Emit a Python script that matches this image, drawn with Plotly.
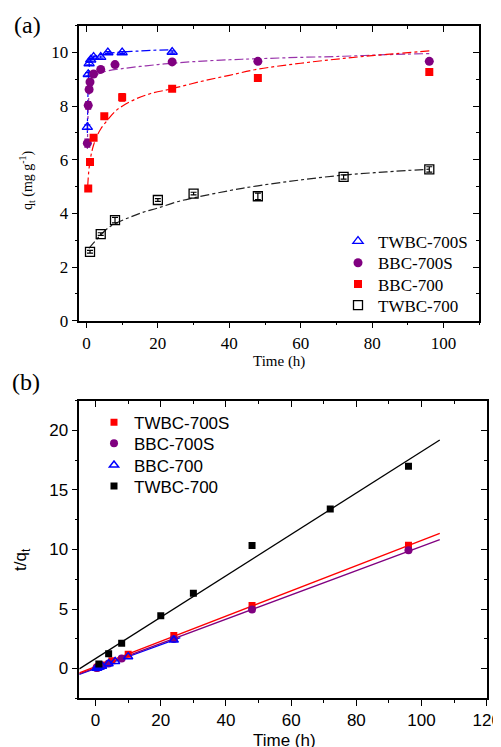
import plotly.graph_objects as go

# the page adds an 8px body margin, so the figure is drawn 8px smaller and shifted
OFF = 8
W, H = 501 - OFF, 747 - OFF

# ---- panel (a): q_t vs time ----
t_twbc700s = [0.25, 0.5, 0.75, 1.2, 2, 4, 6, 10, 24]
q_twbc700s = [7.22, 9.19, 9.59, 9.73, 9.83, 9.83, 10.0, 10.0, 10.02]
e_twbc700s = [0.08, 0.06, 0.05, 0.05, 0.04, 0.04, 0.03, 0.03, 0.04]

t_bbc700s = [0.25, 0.5, 0.75, 1, 2, 4, 8, 24, 48, 96]
q_bbc700s = [6.62, 8.03, 8.62, 8.9, 9.2, 9.37, 9.55, 9.65, 9.67, 9.67]
e_bbc700s = [0.15, 0.14, 0.06, 0.05, 0.05, 0.05, 0.04, 0.04, 0.04, 0.05]

t_bbc700 = [0.5, 1, 2, 5, 10, 24, 48, 96]
q_bbc700 = [4.93, 5.92, 6.82, 7.62, 8.33, 8.65, 9.05, 9.27]
e_bbc700 = [0.06, 0.06, 0.07, 0.06, 0.14, 0.06, 0.06, 0.1]

t_twbc700 = [1, 4, 8, 20, 30, 48, 72, 96]
q_twbc700 = [2.57, 3.23, 3.75, 4.5, 4.74, 4.64, 5.36, 5.64]
e_twbc700 = [0.05, 0.05, 0.1, 0.05, 0.05, 0.12, 0.08, 0.1]

# fitted curves
ft_twbc700s = [0.25, 0.4, 0.6, 0.8, 1, 1.5, 2, 3, 4, 6, 8, 10, 14, 18, 24]
fq_twbc700s = [7.0, 8.3, 9.1, 9.5, 9.65, 9.78, 9.84, 9.9, 9.93, 9.97, 10.0, 10.02, 10.05, 10.08, 10.1]

ft_bbc700s = [0.25, 0.4, 0.6, 0.8, 1, 1.5, 2, 3, 4, 6, 10, 15, 20, 24, 30, 40, 48, 60, 72, 84, 96]
fq_bbc700s = [6.4, 7.4, 8.2, 8.6, 8.85, 9.0, 9.1, 9.18, 9.24, 9.32, 9.4, 9.48, 9.55, 9.6, 9.66, 9.73,
              9.77, 9.82, 9.86, 9.92, 9.96]

ft_bbc700 = [0.35, 0.6, 1, 1.5, 2, 3, 4, 6, 8, 10, 14, 18, 24, 32, 40, 48, 60, 72, 84, 96]
fq_bbc700 = [5.0, 5.5, 5.95, 6.3, 6.55, 6.9, 7.15, 7.5, 7.8, 8.0, 8.28, 8.47, 8.65, 8.92, 9.15, 9.38,
             9.6, 9.78, 9.93, 10.06]

ft_twbc700 = [0.7, 2, 4, 6, 8, 12, 16, 20, 25, 30, 40, 48, 60, 72, 84, 96]
fq_twbc700 = [2.7, 2.9, 3.2, 3.45, 3.62, 3.85, 4.05, 4.2, 4.42, 4.58, 4.85, 5.03, 5.25, 5.43, 5.55, 5.65]

# ---- panel (b): t/q_t vs time ----
bt_red = [0.5, 1, 2, 5, 10, 24, 48, 96]
by_red = [0.1, 0.17, 0.29, 0.66, 1.2, 2.77, 5.3, 10.36]
bt_purple = [0.25, 0.5, 0.75, 1, 2, 4, 8, 24, 48, 96]
by_purple = [0.04, 0.06, 0.09, 0.11, 0.22, 0.43, 0.84, 2.49, 4.96, 9.93]
bt_blue = [0.25, 0.5, 0.75, 1.2, 2, 4, 6, 10, 24]
by_blue = [0.03, 0.05, 0.08, 0.12, 0.2, 0.41, 0.6, 1.0, 2.39]
bt_black = [1, 4, 8, 20, 30, 48, 72, 96]
by_black = [0.39, 1.24, 2.13, 4.44, 6.33, 10.34, 13.4, 17.0]

# linear fits (end points)
lx_red, ly_red = [-5, 105.6], [-0.36, 11.36]
lx_purple, ly_purple = [-5, 105.6], [-0.44, 10.83]
lx_blue, ly_blue = [-5, 26], [-0.5, 2.6]
lx_black, ly_black = [-5, 105.6], [-0.03, 19.2]

BLUE, PURPLE, RED, BLACK = "#0000FF", "#800080", "#FF0000", "#000000"
SERIF = "Liberation Serif"
SANS = "Liberation Sans"


def fx(px):
    return (px - OFF) / W


def fy(py):
    return 1 - (py - OFF) / H


fig = go.Figure()


def err(arr, c):
    return dict(type="data", array=arr, color=c, thickness=1.2, width=3)


# (a) fits
for ft, fq, c in [(ft_twbc700s, fq_twbc700s, BLUE), (ft_bbc700s, fq_bbc700s, "#9933AA"),
                  (ft_bbc700, fq_bbc700, RED), (ft_twbc700, fq_twbc700, "#222222")]:
    fig.add_trace(go.Scatter(x=ft, y=fq, mode="lines", line=dict(color=c, width=1.2, dash="dashdot", shape="spline"),
                             showlegend=False, xaxis="x", yaxis="y"))

# (a) markers, one legend each so rows sit where the reference has them
fig.add_trace(go.Scatter(x=t_twbc700s, y=q_twbc700s, error_y=err(e_twbc700s, BLUE), mode="markers", name="TWBC-700S",
                         marker=dict(symbol="triangle-up-open", size=9, color=BLUE, line=dict(width=1.3)),
                         xaxis="x", yaxis="y", legend="legend"))
fig.add_trace(go.Scatter(x=t_bbc700s, y=q_bbc700s, error_y=err(e_bbc700s, PURPLE), mode="markers", name="BBC-700S",
                         marker=dict(symbol="circle", size=9, color=PURPLE),
                         xaxis="x", yaxis="y", legend="legend2"))
fig.add_trace(go.Scatter(x=t_bbc700, y=q_bbc700, error_y=err(e_bbc700, RED), mode="markers", name="BBC-700",
                         marker=dict(symbol="square", size=8, color=RED),
                         xaxis="x", yaxis="y", legend="legend3"))
fig.add_trace(go.Scatter(x=t_twbc700, y=q_twbc700, error_y=err(e_twbc700, BLACK), mode="markers", name="TWBC-700",
                         marker=dict(symbol="square-open", size=9, color=BLACK, line=dict(width=1.3)),
                         xaxis="x", yaxis="y", legend="legend4"))

# (b) fit lines
for lx, ly, c in [(lx_blue, ly_blue, BLUE), (lx_purple, ly_purple, PURPLE),
                  (lx_red, ly_red, RED), (lx_black, ly_black, BLACK)]:
    fig.add_trace(go.Scatter(x=lx, y=ly, mode="lines", line=dict(color=c, width=1.3),
                             showlegend=False, xaxis="x2", yaxis="y2"))

# (b) markers
fig.add_trace(go.Scatter(x=bt_red, y=by_red, mode="markers", name="TWBC-700S",
                         marker=dict(symbol="square", size=7, color=RED),
                         xaxis="x2", yaxis="y2", legend="legend5"))
fig.add_trace(go.Scatter(x=bt_purple, y=by_purple, mode="markers", name="BBC-700S",
                         marker=dict(symbol="circle", size=8, color=PURPLE),
                         xaxis="x2", yaxis="y2", legend="legend6"))
fig.add_trace(go.Scatter(x=bt_blue, y=by_blue, mode="markers", name="BBC-700",
                         marker=dict(symbol="triangle-up-open", size=8, color=BLUE, line=dict(width=1.5)),
                         xaxis="x2", yaxis="y2", legend="legend7"))
fig.add_trace(go.Scatter(x=bt_black, y=by_black, mode="markers", name="TWBC-700",
                         marker=dict(symbol="square", size=7, color=BLACK),
                         xaxis="x2", yaxis="y2", legend="legend8"))

# dummy traces so the mirrored (inward tick) axes get drawn
fig.add_trace(go.Scatter(x=[None], y=[None], xaxis="x3", yaxis="y3", showlegend=False))
fig.add_trace(go.Scatter(x=[None], y=[None], xaxis="x4", yaxis="y4", showlegend=False))

dom_ax = [fx(79.3), fx(479.3)]
dom_ay = [fy(320.7), fy(25.7)]
dom_bx = [fx(79.3), fx(486.7)]
dom_by = [fy(698.3), fy(400.7)]


def axis(dom, rng, dtick, mdtick, font, anchor, ticks="outside", labels=True):
    return dict(domain=dom, range=rng, tick0=0, dtick=dtick, ticks=ticks, ticklen=6, tickwidth=1.2,
                tickcolor="black", showticklabels=labels, showgrid=False, zeroline=False,
                showline=True, linecolor="black", linewidth=1.5, mirror=True, anchor=anchor,
                tickfont=dict(family=font, size=17, color="black"),
                minor=dict(ticks=ticks, ticklen=3, tickwidth=1.2, tickcolor="black", dtick=mdtick, showgrid=False),
                automargin=False)


def leg(px, py, font):
    # py is the row centre in reference pixels
    return dict(x=fx(px), y=fy(py - 17.5), xanchor="left", yanchor="top", bgcolor="rgba(0,0,0,0)",
                font=dict(family=font, size=17, color="black"))


fig.update_layout(
    width=W, height=H, margin=dict(l=0, r=0, t=0, b=0, pad=0),
    plot_bgcolor="white", paper_bgcolor="white",
    xaxis=axis(dom_ax, [-2, 110], 20, 10, SERIF, "y"),
    yaxis=axis(dom_ay, [0, 11], 2, 1, SERIF, "x"),
    xaxis2=axis(dom_bx, [-5, 120], 20, 10, SANS, "y2"),
    yaxis2=axis(dom_by, [-2.5, 22.5], 5, 2.5, SANS, "x2"),
    xaxis3=dict(axis(dom_ax, [-2, 110], 20, 10, SERIF, "y", "inside", False), overlaying="x", side="top",
                showline=False),
    yaxis3=dict(axis(dom_ay, [0, 11], 2, 1, SERIF, "x", "inside", False), overlaying="y", side="right",
                showline=False),
    xaxis4=dict(axis(dom_bx, [-5, 120], 20, 10, SANS, "y2", "inside", False), overlaying="x2", side="top",
                showline=False),
    yaxis4=dict(axis(dom_by, [-2.5, 22.5], 5, 2.5, SANS, "x2", "inside", False), overlaying="y2", side="right",
                showline=False),
    legend=leg(338, 241, SERIF),
    legend2=leg(338, 262.7, SERIF),
    legend3=leg(338, 284, SERIF),
    legend4=leg(338, 305, SERIF),
    legend5=leg(94, 422.3, SANS),
    legend6=leg(94, 443.3, SANS),
    legend7=leg(94, 465, SANS),
    legend8=leg(94, 486, SANS),
    showlegend=True,
)

ann = [
    ("(a)", 27, 25, SERIF, 24, 0),
    ("(b)", 26, 382, SERIF, 24, 0),
    ("q<sub>t</sub> (mg g<sup>-1</sup>)", 27, 181, SERIF, 14, -90),
    ("Time (h)", 279, 361, SERIF, 15, 0),
    ("t/q<sub>t</sub>", 22, 560, SANS, 17, -90),
    ("Time (h)", 284, 740, SANS, 17, 0),
]
for text, px, py, fam, sz, ang in ann:
    fig.add_annotation(text=text, x=fx(px), y=fy(py), xref="paper", yref="paper", showarrow=False,
                       xanchor="center", yanchor="middle", textangle=ang,
                       font=dict(family=fam, size=sz, color="black"))

fig.write_html("out.html")
